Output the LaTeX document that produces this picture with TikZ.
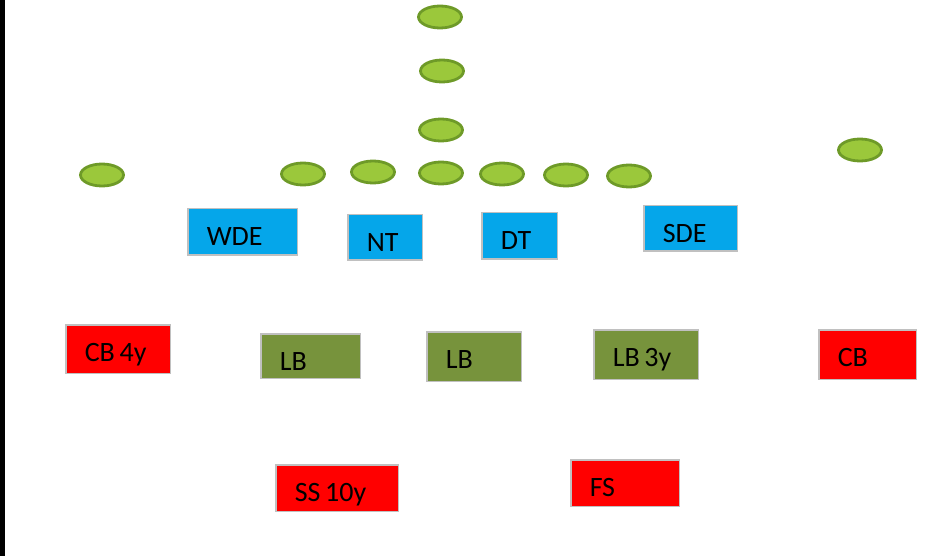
\documentclass[tikz,border=0pt]{standalone}
\usepackage{fontspec}
\setmainfont{Carlito}
\usepackage{xcolor}
\usetikzlibrary{shapes.geometric}

\definecolor{lineblue}{HTML}{05A6EA}
\definecolor{lbgreen}{HTML}{77933C}
\definecolor{dbred}{HTML}{FF0000}
\definecolor{boxgray}{HTML}{C0C0C0}
\definecolor{offfill}{HTML}{9BC83B}
\definecolor{offline}{HTML}{6E9A28}

\begin{document}
\begin{tikzpicture}[
    x=1pt, y=-1pt,
    player/.style={
      ellipse, draw=offline, fill=offfill, line width=2.8pt,
      minimum width=43pt, minimum height=22pt, inner sep=0pt
    },
    posbox/.style={
      rectangle, draw=boxgray, line width=1.5pt, anchor=north west,
      inner xsep=19pt, inner ysep=0pt, text height=37pt, align=left,
      font=\fontsize{28}{33}\selectfont,
      execute at begin node={\spaceskip=0.17em\relax}
    },
    dlbox/.style={posbox, fill=lineblue},
    lbbox/.style={posbox, fill=lbgreen},
    dbbox/.style={posbox, fill=dbred}
  ]
  \useasboundingbox (0,0) rectangle (927,556);
  \fill[black] (0,0) rectangle (5,556);

  % offense
  \node[player] (tb)  at (440,17)  {};
  \node[player] (fb)  at (442,71)  {};
  \node[player] (qb)  at (441,130) {};
  \node[player] (wrx) at (102,175) {};
  \node[player] (lt)  at (303,174) {};
  \node[player] (lg)  at (373,172) {};
  \node[player] (c)   at (441,173) {};
  \node[player] (rg)  at (502,174) {};
  \node[player] (rt)  at (566,175) {};
  \node[player] (te)  at (629,176) {};
  \node[player] (wrz) at (860,150) {};

  % defensive line
  \node[dlbox, text width=71.5pt, text depth=9.5pt] (wde) at (187,208) {WDE};
  \node[dlbox, text width=36.5pt, text depth=8.5pt] (nt)  at (347,214) {NT};
  \node[dlbox, text width=37.5pt, text depth=9.5pt] (dt)  at (481,212) {DT};
  \node[dlbox, text width=55.5pt, text depth=8.5pt] (sde) at (643,205) {SDE};

  % linebackers and corners
  \node[dbbox, text width=66.5pt, text depth=11.5pt] (cbw) at (65,324)  {CB 4y};
  \node[lbbox, text width=61.5pt, text depth=7.5pt]  (wlb) at (260,333) {LB};
  \node[lbbox, text width=56.5pt, text depth=12.5pt] (mlb) at (426,331) {LB};
  \node[lbbox, text width=66.5pt, text depth=12.5pt] (slb) at (593,329) {LB 3y};
  \node[dbbox, text width=59.5pt, text depth=12.5pt] (cbs) at (818,329) {CB};

  % safeties
  \node[dbbox, text width=84.5pt, text depth=9.5pt] (ss) at (275,464) {SS 10y};
  \node[dbbox, text width=70.5pt, text depth=9.5pt] (fs) at (570,459) {FS};
\end{tikzpicture}
\end{document}
